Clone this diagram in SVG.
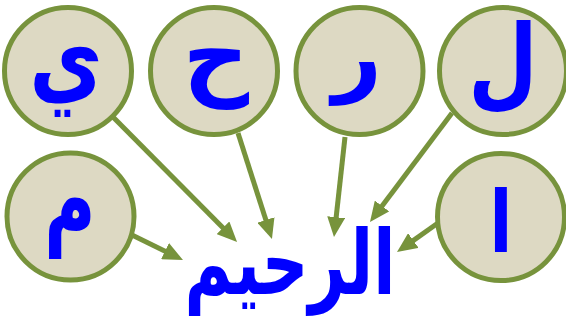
<svg xmlns="http://www.w3.org/2000/svg" width="566" height="320" viewBox="0 0 566 320">
<style>
.node circle{fill:#DDD9C3;stroke:#77933C;stroke-width:5}
.node text{font-family:"DejaVu Sans",sans-serif;font-weight:bold;fill:#0000FF;font-size:100px;text-anchor:middle}
.conn line{stroke:#77933C;stroke-width:5}
.word{font-family:"DejaVu Sans",sans-serif;font-weight:bold;fill:#0000FF;font-size:90px;text-anchor:middle}
</style>
<defs>
<marker id="ah" markerUnits="userSpaceOnUse" markerWidth="20" markerHeight="18" refX="8" refY="9" orient="auto">
<path d="M0,0 L20,9 L0,18 z" fill="#77933C"/>
</marker>
</defs>
<g id="connectors" class="conn">
<line x1="113" y1="117" x2="228.6" y2="233.5" marker-end="url(#ah)"/>
<line x1="238" y1="133" x2="268.3" y2="227.6" marker-end="url(#ah)"/>
<line x1="345" y1="137" x2="335.3" y2="225.1" marker-end="url(#ah)"/>
<line x1="452" y1="113" x2="377.2" y2="212.4" marker-end="url(#ah)"/>
<line x1="438" y1="223" x2="406.8" y2="245.1" marker-end="url(#ah)"/>
<line x1="132" y1="235" x2="172.2" y2="254.7" marker-end="url(#ah)"/>
</g>
<g id="node-ya" class="node"><circle cx="68" cy="71" r="63.5"/><text transform="translate(66,93) scale(0.8,1)">ي</text></g>
<g id="node-ha" class="node"><circle cx="214" cy="71" r="63.5"/><text x="216" y="88" style="font-size:92px">ح</text></g>
<g id="node-ra" class="node"><circle cx="359.5" cy="71" r="63.5"/><text x="357" y="85" style="font-size:86px">ر</text></g>
<g id="node-lam" class="node"><circle cx="503" cy="71" r="63.5"/><text transform="translate(503,96) scale(0.8,1)">ل</text></g>
<g id="node-mim" class="node"><circle cx="70.5" cy="216.5" r="63.5"/><text transform="translate(70,235) scale(0.7,1)">م</text></g>
<g id="node-alif" class="node"><circle cx="501" cy="217" r="63.5"/><text transform="translate(501,252) scale(0.8,1)" style="font-size:85px">ا</text></g>
<g id="word"><text class="word" transform="translate(290,294) scale(0.72,1)">الرحيم</text></g>
</svg>
